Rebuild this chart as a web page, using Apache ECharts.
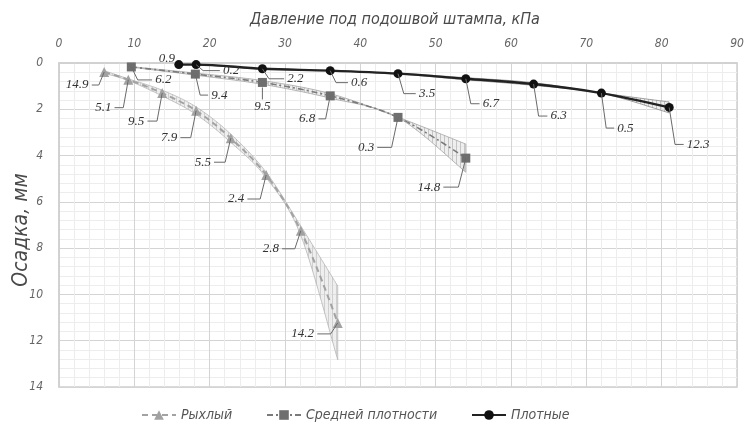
<!DOCTYPE html>
<html>
<head>
<meta charset="utf-8">
<script src="https://cdn.jsdelivr.net/npm/echarts@6/dist/echarts.min.js"></script>
<style>
  html, body { margin: 0; padding: 0; background: #fff; }
  #chart { width: 744px; height: 428px; }
</style>
</head>
<body>
<div id="chart"></div>
<script>
// Pressure under the plate (kPa), settlement (mm) and scatter of repeat tests (%)
const looseX   = [6.0, 9.2, 13.7, 18.2, 22.8, 27.5, 32.1, 37.0];
const looseY   = [0.39, 0.72, 1.30, 2.06, 3.25, 4.84, 7.25, 11.23];
const looseErr = [14.9, 5.1, 9.5, 7.9, 5.5, 2.4, 2.8, 14.2];

const mediumX   = [9.6, 18.1, 27.0, 36.0, 45.0, 54.0];
const mediumY   = [0.17, 0.48, 0.84, 1.42, 2.35, 4.11];
const mediumErr = [6.2, 9.4, 9.5, 6.8, 0.3, 14.8];

const denseX   = [15.9, 18.2, 27.0, 36.0, 45.0, 54.0, 63.0, 72.0, 81.0];
const denseY   = [0.07, 0.07, 0.25, 0.33, 0.46, 0.68, 0.91, 1.30, 1.92];
const denseErr = [0.9, 0.2, 2.2, 0.6, 3.5, 6.7, 6.3, 0.5, 12.3];

const xTicks = [0, 10, 20, 30, 40, 50, 60, 70, 80, 90];
const yTicks = [0, 2, 4, 6, 8, 10, 12, 14];

const seriesNames = ['Рыхлый', 'Средней плотности', 'Плотные'];

// Callout placement (pixel offsets of each label from its marker)
const looseCallouts  = [[-27, 13], [-25, 28], [-26, 28], [-27, 27], [-28, 24], [-30, 24], [-30, 18], [-35, 11]];
const mediumCallouts = [[32, 13], [24, 21], [0, 24], [-23, 23], [-32, 30], [-37, 29]];
const denseCallouts  = [[-12, -6], [35, 6], [33, 10], [29, 12], [29, 20], [25, 25], [25, 32], [24, 35], [29, 37]];

const axisFont = '"Liberation Sans Narrow", "DejaVu Sans Condensed", "Liberation Sans", sans-serif';
const valueFont = '"Liberation Serif", "DejaVu Serif", serif';

// vertical hatch used inside the scatter bands
function hatch(lineColor) {
  const c = document.createElement('canvas');
  c.width = 4; c.height = 4;
  const g = c.getContext('2d');
  g.fillStyle = 'rgba(228,228,228,0.6)';
  g.fillRect(0, 0, 4, 4);
  g.fillStyle = lineColor;
  g.fillRect(0, 0, 1, 4);
  return { image: c, repeat: 'repeat' };
}

function pairs(xs, ys) { return xs.map((x, i) => [x, ys[i]]); }

// sample a smooth cubic curve through pixel points
function smoothPath(pts) {
  const out = [];
  const n = pts.length;
  const k = 1 / 6;
  for (let i = 0; i < n - 1; i++) {
    const p0 = pts[Math.max(i - 1, 0)], p1 = pts[i], p2 = pts[i + 1], p3 = pts[Math.min(i + 2, n - 1)];
    const c1 = [p1[0] + (p2[0] - p0[0]) * k, p1[1] + (p2[1] - p0[1]) * k];
    const c2 = [p2[0] - (p3[0] - p1[0]) * k, p2[1] - (p3[1] - p1[1]) * k];
    const steps = 14;
    for (let s = (i === 0 ? 0 : 1); s <= steps; s++) {
      const t = s / steps, u = 1 - t;
      out.push([
        u * u * u * p1[0] + 3 * u * u * t * c1[0] + 3 * u * t * t * c2[0] + t * t * t * p2[0],
        u * u * u * p1[1] + 3 * u * u * t * c1[1] + 3 * u * t * t * c2[1] + t * t * t * p2[1]
      ]);
    }
  }
  return out;
}

// scatter band: settlement ± error %, drawn once for the whole series
function band(xs, ys, err, edgeColor, hatchColor) {
  return {
    type: 'custom',
    silent: true,
    z: 1,
    data: pairs(xs, ys),
    renderItem: function (params, api) {
      if (params.dataIndex !== 0) return null;
      const up = xs.map((x, i) => api.coord([x, ys[i] * (1 - err[i] / 100)]));
      const lo = xs.map((x, i) => api.coord([x, ys[i] * (1 + err[i] / 100)]));
      const upPath = smoothPath(up);
      const loPath = smoothPath(lo);
      const poly = upPath.concat(loPath.slice().reverse());
      return {
        type: 'group',
        children: [
          { type: 'polygon', shape: { points: poly }, style: { fill: hatch(hatchColor), stroke: null } },
          { type: 'polyline', shape: { points: upPath }, style: { stroke: edgeColor, lineWidth: 0.8, fill: null } },
          { type: 'polyline', shape: { points: loPath }, style: { stroke: edgeColor, lineWidth: 0.8, fill: null } },
          { type: 'line', shape: { x1: up[up.length - 1][0], y1: up[up.length - 1][1], x2: lo[lo.length - 1][0], y2: lo[lo.length - 1][1] },
            style: { stroke: edgeColor, lineWidth: 0.8 } }
        ]
      };
    }
  };
}

function callouts(xs, ys, err, offs) {
  return {
    type: 'custom',
    silent: true,
    z: 5,
    data: xs.map((x, i) => [x, ys[i], err[i], offs[i][0], offs[i][1]]),
    renderItem: function (params, api) {
      const p = api.coord([api.value(0), api.value(1)]);
      const txt = String(api.value(2));
      const dx = api.value(3), dy = api.value(4);
      const lx = p[0] + dx, ly = p[1] + dy;
      const halfW = (txt.length - 0.5) * 3.3;
      const children = [];
      if (dy > 0) {
        let pts;
        if (Math.abs(dx) < 3) {
          pts = [[p[0], p[1] + 5], [p[0], ly - 7]];
        } else {
          const s = dx > 0 ? 1 : -1;
          pts = [[p[0], p[1]], [p[0] + dx * 0.2, ly], [lx - s * (halfW + 3), ly]];
        }
        children.push({
          type: 'polyline',
          shape: { points: pts },
          style: { stroke: '#6a6a6a', lineWidth: 1, fill: null }
        });
      }
      children.push({
        type: 'text',
        x: lx, y: ly,
        style: {
          text: txt,
          fill: '#333',
          font: 'italic 13px ' + valueFont,
          align: 'center',
          verticalAlign: 'middle'
        }
      });
      return { type: 'group', children: children };
    }
  };
}

const chart = echarts.init(document.getElementById('chart'), null, { renderer: 'canvas' });

const legendText = { fontFamily: axisFont, fontStyle: 'italic', fontSize: 14, color: '#555' };

chart.setOption({
  animation: false,
  backgroundColor: '#fff',
  title: {
    text: 'Давление под подошвой штампа, кПа',
    left: 390, top: 7, textAlign: 'center',
    textStyle: { fontFamily: axisFont, fontStyle: 'italic', fontWeight: 'normal', fontSize: 16, color: '#4a4a4a' }
  },
  grid: {
    left: 59, right: 7, top: 63, bottom: 41,
    outerBoundsMode: 'none', containLabel: false,
    show: true, borderColor: '#cfcfcf', borderWidth: 1.5
  },
  legend: [
    { data: [seriesNames[0]], left: 136, top: 403, itemWidth: 34, itemHeight: 12, itemGap: 0, textStyle: legendText },
    { data: [seriesNames[1]], left: 261, top: 403, itemWidth: 34, itemHeight: 12, itemGap: 0, textStyle: legendText },
    { data: [seriesNames[2]], left: 466, top: 403, itemWidth: 34, itemHeight: 12, itemGap: 0, textStyle: legendText }
  ],
  xAxis: {
    type: 'value', position: 'top',
    min: xTicks[0], max: xTicks[xTicks.length - 1], interval: xTicks[1] - xTicks[0],
    axisLine: { show: true, lineStyle: { color: '#cfcfcf', width: 1.5 } },
    axisTick: { show: false },
    axisLabel: { margin: 13, fontFamily: axisFont, fontStyle: 'italic', fontSize: 12, color: '#666' },
    splitLine: { show: true, lineStyle: { color: '#d4d4d4', width: 1 } },
    minorTick: { show: false, splitNumber: 5 },
    minorSplitLine: { show: true, lineStyle: { color: '#ededed', width: 1 } }
  },
  yAxis: {
    type: 'value', inverse: true,
    min: yTicks[0], max: yTicks[yTicks.length - 1], interval: yTicks[1] - yTicks[0],
    name: 'Осадка, мм', nameLocation: 'middle', nameGap: 27, nameRotate: 90, nameMoveOverlap: false,
    nameTextStyle: { fontFamily: axisFont, fontStyle: 'italic', fontSize: 21, color: '#4a4a4a', padding: [0, 10, 0, 0] },
    axisLine: { show: true, lineStyle: { color: '#cfcfcf', width: 1.5 } },
    axisTick: { show: false },
    axisLabel: { margin: 16, fontFamily: axisFont, fontStyle: 'italic', fontSize: 12, color: '#666' },
    splitLine: { show: true, lineStyle: { color: '#d4d4d4', width: 1 } },
    minorTick: { show: false, splitNumber: 5 },
    minorSplitLine: { show: true, lineStyle: { color: '#ededed', width: 1 } }
  },
  series: [
    band(looseX, looseY, looseErr, '#b5b5b5', '#cfcfcf'),
    band(mediumX, mediumY, mediumErr, '#a5a5a5', '#c4c4c4'),
    band(denseX, denseY, denseErr, '#8a8a8a', '#bdbdbd'),
    {
      name: seriesNames[0], type: 'line', data: pairs(looseX, looseY), smooth: 0.35, z: 3,
      symbol: 'triangle', symbolSize: 10,
      itemStyle: { color: '#a2a2a2' },
      lineStyle: { color: '#a2a2a2', width: 2, type: [6, 4] }
    },
    {
      name: seriesNames[1], type: 'line', data: pairs(mediumX, mediumY), smooth: 0.35, z: 3,
      symbol: 'rect', symbolSize: 9,
      itemStyle: { color: '#6e6e6e' },
      lineStyle: { color: '#7a7a7a', width: 1.6, type: [6, 3, 2, 3] }
    },
    {
      name: seriesNames[2], type: 'line', data: pairs(denseX, denseY), smooth: 0.35, z: 4,
      symbol: 'circle', symbolSize: 9,
      itemStyle: { color: '#111' },
      lineStyle: { color: '#222', width: 2.4 }
    },
    callouts(looseX, looseY, looseErr, looseCallouts),
    callouts(mediumX, mediumY, mediumErr, mediumCallouts),
    callouts(denseX, denseY, denseErr, denseCallouts)
  ]
});
</script>
</body>
</html>
